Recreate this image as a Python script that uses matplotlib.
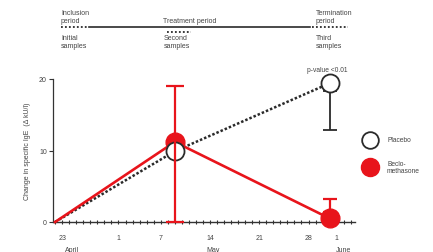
import matplotlib
matplotlib.use("Agg")
import matplotlib.pyplot as plt
from matplotlib.lines import Line2D
import matplotlib.transforms as mtrans

# ---- data (days after 23 April) ----
days = [-1, 16, 38]
placebo = [0.0, 9.9, 19.4]
beclo = [0.0, 11.2, 0.5]
beclo_err_low = [0.0, 11.2, 0.0]
beclo_err_high = [0.0, 7.8, 2.7]
placebo_err_low = [0.0, 0.0, 6.5]
placebo_err_high = [0.0, 0.0, 0.0]

tick_days = [0, 8, 14, 21, 28, 35, 39]
tick_labels = ["23", "1", "7", "14", "21", "28", "1"]
month_days = [1.4, 21.4, 39.9]
month_labels = ["April", "May", "June"]
yticks = [0, 10, 20]

W, H = 433, 253
plt.rcParams['font.family'] = ['Liberation Sans', 'DejaVu Sans']
fig = plt.figure(figsize=(W / 100, H / 100), dpi=100)
fig.patch.set_facecolor('white')

def fx(px):
    return px / W

def fy(py):
    return 1 - py / H

ax = fig.add_axes([fx(53), fy(223), fx(355) - fx(53), fy(80) - fy(223)])
ax.set_xlim(-1.3, 41.6)
ax.set_ylim(0, 20)
for s in ['top', 'right']:
    ax.spines[s].set_visible(False)
txtc = '#444444'
axc = '#333333'
ax.spines['left'].set_color(axc)
ax.spines['bottom'].set_color(axc)
ax.spines['left'].set_linewidth(0.9)
ax.spines['bottom'].set_linewidth(1.0)

red = '#e8141b'
dark = '#2a2a2a'
ms = 13.5

# red line with markers
ax.plot(days, beclo, color=red, lw=1.9, zorder=3, clip_on=False)
ax.plot(days[1:], beclo[1:], 'o', color=red, ms=ms, zorder=4, clip_on=False)
# placebo dotted
ax.plot(days, placebo, color=dark, lw=1.8, ls=(0, (1, 0.8)), zorder=2, clip_on=False)
ax.plot(days[1:], placebo[1:], 'o', mfc='white', mec=dark, mew=1.3, ms=ms - 0.5,
        zorder=5, clip_on=False)
# error bars
ax.errorbar(days[1:2], beclo[1:2], yerr=[beclo_err_low[1:2], beclo_err_high[1:2]],
            fmt='none', ecolor=red, elinewidth=1.6, capsize=6.5, capthick=1.6,
            zorder=6, clip_on=False)
ax.errorbar(days[2:], [b + 0.9 for b in beclo[2:]],
            yerr=[[0], [beclo_err_high[2] - 0.9]],
            fmt='none', ecolor=red, elinewidth=1.6, capsize=5, capthick=1.6,
            zorder=2, clip_on=False)
ax.errorbar(days[2:], [p - 1.1 for p in placebo[2:]],
            yerr=[[placebo_err_low[2] - 1.1], [0]],
            fmt='none', ecolor=dark, elinewidth=1.3, capsize=5, capthick=1.3,
            zorder=2, clip_on=False)

ax.text(days[2] - 0.4, placebo[2] + 1.5, "p-value <0.01", ha='center', va='bottom',
        fontsize=4.8, color=txtc)

# ticks
ax.set_xticks(tick_days)
ax.set_xticklabels(tick_labels)
ax.set_xticks(list(range(-1, 42)), minor=True)
ax.tick_params(axis='x', which='both', direction='inout', length=3.5, width=0.8,
               color=axc, labelsize=5, labelcolor=txtc, pad=7)
ax.set_yticks(yticks)
ax.tick_params(axis='y', direction='out', length=3, width=0.8, color=axc,
               labelsize=5, labelcolor=txtc, pad=1.5)
ax.set_ylabel("Change in specific IgE  (\u0394 kU/l)", fontsize=5, color=txtc, labelpad=6)

trans = mtrans.blended_transform_factory(ax.transData, fig.transFigure)
for d, m in zip(month_days, month_labels):
    ax.text(d, fy(251), m, transform=trans, ha='center', va='center', fontsize=5,
            color=txtc, clip_on=False)

# legend
fig.add_artist(Line2D([fx(370)], [fy(141)], marker='o', mfc='white', mec=dark, mew=1.3,
                      ms=12, transform=fig.transFigure))
fig.add_artist(Line2D([fx(370)], [fy(168)], marker='o', color=red, ms=13,
                      transform=fig.transFigure))
fig.text(fx(387), fy(141), "Placebo", fontsize=4.8, color=txtc, va='center')
fig.text(fx(387), fy(168), "Beclo-\nmethasone", fontsize=4.8, color=txtc, va='center',
         linespacing=1.0)

# timeline on top
fig.add_artist(Line2D([fx(61), fx(88)], [fy(27.5), fy(27.5)], color=dark, lw=1.3,
                      ls=(0, (1, 1.2)), transform=fig.transFigure))
fig.add_artist(Line2D([fx(89), fx(310)], [fy(27.5), fy(27.5)], color=dark, lw=1.2,
                      transform=fig.transFigure))
fig.add_artist(Line2D([fx(312), fx(348)], [fy(27.5), fy(27.5)], color=dark, lw=1.3,
                      ls=(0, (1, 1.2)), transform=fig.transFigure))
fig.add_artist(Line2D([fx(167), fx(191)], [fy(32.5), fy(32.5)], color=dark, lw=1.3,
                      ls=(0, (1, 1.2)), transform=fig.transFigure))
tkw = dict(fontsize=5, color=txtc, linespacing=1.15)
fig.text(fx(61), fy(25), "Inclusion\nperiod", va='bottom', **tkw)
fig.text(fx(163), fy(25), "Treatment period", va='bottom', **tkw)
fig.text(fx(316), fy(25), "Termination\nperiod", va='bottom', **tkw)
fig.text(fx(61), fy(35), "Initial\nsamples", va='top', **tkw)
fig.text(fx(164), fy(35), "Second\nsamples", va='top', **tkw)
fig.text(fx(316), fy(35), "Third\nsamples", va='top', **tkw)

fig.savefig("out.png", dpi=100, facecolor='white')
